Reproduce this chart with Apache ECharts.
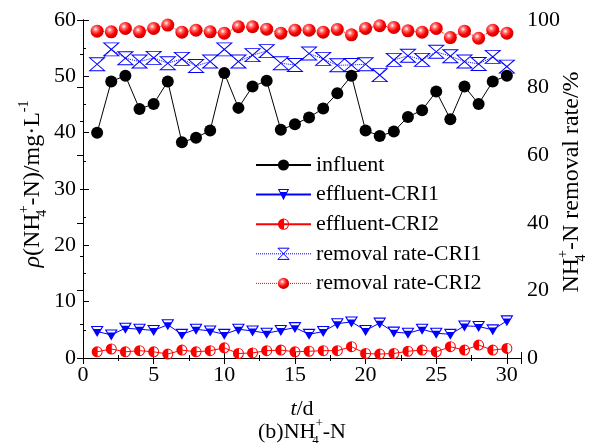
<!DOCTYPE html>
<html>
<head>
<meta charset="utf-8">
<script src="https://cdn.jsdelivr.net/npm/echarts@6/dist/echarts.min.js"></script>
<style>
    html, body { margin: 0; padding: 0; background: #fff; }
    #main { width: 590px; height: 443px; }
</style>
</head>
<body>
<div id="main"></div>
<script>
    "use strict";

    // ------------------------------
    // Data
    // ------------------------------
    var days = [1, 2, 3, 4, 5, 6, 7, 8, 9, 10, 11, 12, 13, 14, 15,
        16, 17, 18, 19, 20, 21, 22, 23, 24, 25, 26, 27, 28, 29, 30];
    var influent = [40.0, 49.1, 50.1, 44.2, 45.1, 49.1, 38.3, 39.1, 40.4, 50.6,
        44.4, 48.2, 49.2, 40.5, 41.5, 42.7, 44.3, 47.0, 50.1, 40.4,
        39.4, 40.2, 42.8, 44.0, 47.3, 42.4, 48.2, 45.1, 49.1, 50.1];
    var effluentCRI1 = [4.7, 4.1, 5.3, 5.1, 4.9, 5.9, 4.2, 5.1, 4.8, 4.2,
        5.1, 4.8, 4.4, 4.9, 5.4, 4.2, 4.7, 6.1, 6.4, 4.9,
        6.2, 4.6, 4.4, 5.1, 4.4, 4.2, 5.7, 5.6, 5.0, 6.6];
    var effluentCRI2 = [1.1, 1.6, 1.1, 1.3, 1.1, 0.7, 1.4, 1.1, 1.3, 1.8,
        0.8, 0.9, 1.3, 1.4, 1.1, 1.2, 1.3, 1.3, 2.0, 0.8,
        0.7, 0.8, 1.2, 1.4, 1.1, 2.0, 1.4, 2.3, 1.4, 1.7];
    var removalCRI1 = [86.9, 91.3, 88.7, 87.7, 88.8, 87.2, 88.5, 86.4, 87.7, 91.3,
        87.7, 89.6, 90.8, 87.2, 86.7, 90.1, 88.5, 86.6, 86.7, 86.9,
        83.7, 88.2, 89.4, 88.2, 90.6, 89.3, 87.7, 87.0, 89.1, 86.2];
    var removalCRI2 = [96.7, 96.5, 97.5, 96.5, 97.5, 98.5, 96.4, 97.0, 96.5, 96.1,
        98.0, 98.0, 97.3, 96.1, 97.0, 97.0, 96.4, 97.2, 95.6, 97.5,
        98.3, 97.8, 96.8, 96.4, 97.5, 94.8, 96.7, 94.6, 97.0, 96.1];

    function pairs(vals) {
        return days.map(function (d, i) { return [d, vals[i]]; });
    }

    var FONT = "'Liberation Serif', 'Times New Roman', serif";
    var BLUE = '#0000ff';
    var RED = '#ff0000';

    // half filled markers
    var triHalf = 'path://M0,0 L20,0 L10,18 Z M3,1.8 L4.8,5 L15.2,5 L17,1.8 Z';
    var circHalf = 'path://M10,0 A10,10 0 1,1 10,20 A10,10 0 1,1 10,0 Z M11,1.6 L11,18.4 A8.5,8.5 0 0,0 11,1.6 Z';
    var hourglass = 'path://M0,0 L20,0 L0,18 L20,18 Z';

    var ballFill = {
        type: 'radial', x: 0.38, y: 0.35, r: 0.7,
        colorStops: [
            { offset: 0, color: '#ffffff' },
            { offset: 0.25, color: '#ff7070' },
            { offset: 0.6, color: '#ff0000' },
            { offset: 1, color: '#c00000' }
        ]
    };
    var hollowBlue = { color: 'rgba(0,0,0,0)', borderColor: BLUE, borderWidth: 1 };
    var dottedBlue = { color: BLUE, width: 1, type: [1, 1] };
    var dottedRed = { color: RED, width: 1, type: [1, 1] };

    var axisCommon = {
        axisLine: { show: true, lineStyle: { color: '#000', width: 1 } },
        axisTick: { show: true, inside: true, length: 6, lineStyle: { color: '#000' } },
        minorTick: { show: true, splitNumber: 2, length: 3, lineStyle: { color: '#000' } },
        splitLine: { show: false }
    };

    function richFor(size) {
        var small = Math.round(size * 0.6);
        var lh = size + 8;
        return {
            i: { fontStyle: 'italic', fontSize: size, fontFamily: FONT, lineHeight: lh, verticalAlign: 'middle' },
            sub: { fontSize: small, fontFamily: FONT, lineHeight: lh, verticalAlign: 'bottom', width: 0 },
            sup: { fontSize: small, fontFamily: FONT, lineHeight: lh, verticalAlign: 'top' }
        };
    }

    var chart = echarts.init(document.getElementById('main'));
    var option = {
        backgroundColor: '#fff',
        animation: false,
        grid: { left: 83, right: 69, top: 20, bottom: 85, containLabel: false },
        textStyle: { fontFamily: FONT },
        legend: {
            orient: 'vertical',
            left: 255,
            top: 154,
            padding: 0,
            itemWidth: 55,
            itemHeight: 14,
            itemGap: 7.6,
            textStyle: { fontSize: 22, fontFamily: FONT, color: '#000' },
            data: [
                { name: 'influent' },
                { name: 'effluent-CRI1' },
                { name: 'effluent-CRI2' },
                { name: 'removal rate-CRI1', itemStyle: hollowBlue, lineStyle: dottedBlue },
                { name: 'removal rate-CRI2', lineStyle: dottedRed }
            ]
        },
        xAxis: [
            Object.assign({}, axisCommon, {
                type: 'value', min: 0, max: 31, interval: 5,
                axisLabel: { fontSize: 22, fontFamily: FONT, color: '#000', margin: 6, showMaxLabel: false }
            }),
            Object.assign({}, axisCommon, {
                type: 'value', position: 'top', min: 0, max: 31, interval: 5,
                axisLabel: { show: false }
            })
        ],
        yAxis: [
            Object.assign({}, axisCommon, {
                type: 'value', min: 0, max: 60, interval: 10,
                axisLabel: { fontSize: 22, fontFamily: FONT, color: '#000', margin: 7 }
            }),
            Object.assign({}, axisCommon, {
                type: 'value', position: 'right', min: 0, max: 100, interval: 20,
                axisLabel: { fontSize: 22, fontFamily: FONT, color: '#000', margin: 6 }
            })
        ],
        series: [{
            name: 'influent',
            type: 'line',
            data: pairs(influent),
            symbol: 'circle',
            symbolSize: 12,
            itemStyle: { color: '#000' },
            lineStyle: { color: '#000', width: 1 },
            z: 5
        }, {
            name: 'effluent-CRI1',
            type: 'line',
            data: pairs(effluentCRI1),
            symbol: triHalf,
            symbolSize: [13, 11],
            itemStyle: { color: BLUE },
            lineStyle: { color: BLUE, width: 1 }
        }, {
            name: 'effluent-CRI2',
            type: 'line',
            data: pairs(effluentCRI2),
            symbol: circHalf,
            symbolSize: 11,
            itemStyle: { color: RED },
            lineStyle: { color: RED, width: 1 }
        }, {
            name: 'removal rate-CRI1',
            type: 'line',
            yAxisIndex: 1,
            data: pairs(removalCRI1),
            symbol: hourglass,
            symbolSize: [15, 13],
            itemStyle: hollowBlue,
            lineStyle: dottedBlue
        }, {
            name: 'removal rate-CRI2',
            type: 'line',
            yAxisIndex: 1,
            data: pairs(removalCRI2),
            symbol: 'circle',
            symbolSize: 13,
            itemStyle: { color: ballFill },
            lineStyle: dottedRed
        }],
        graphic: [{
            // left axis title
            type: 'text',
            x: 33, y: 184,
            rotation: Math.PI / 2,
            style: {
                text: '{i|ρ}(NH{sub|4}{sup|+}-N)/mg·L{sup|-1}',
                rich: richFor(24),
                fontSize: 24, fontFamily: FONT, fill: '#000',
                align: 'center', verticalAlign: 'middle'
            }
        }, {
            // right axis title
            type: 'text',
            x: 572, y: 182,
            rotation: Math.PI / 2,
            style: {
                text: 'NH{sub|4}{sup|+}-N removal rate/%',
                rich: richFor(24),
                fontSize: 24, fontFamily: FONT, fill: '#000',
                align: 'center', verticalAlign: 'middle'
            }
        }, {
            type: 'text',
            x: 302, y: 409,
            style: {
                text: '{i|t}/d',
                rich: richFor(22),
                fontSize: 22, fontFamily: FONT, fill: '#000',
                align: 'center', verticalAlign: 'middle'
            }
        }, {
            type: 'text',
            x: 302, y: 432,
            style: {
                text: '(b)NH{sub|4}{sup|+}-N',
                rich: richFor(22),
                fontSize: 22, fontFamily: FONT, fill: '#000',
                align: 'center', verticalAlign: 'middle'
            }
        }]
    };

    chart.setOption(option);
</script>
</body>
</html>
